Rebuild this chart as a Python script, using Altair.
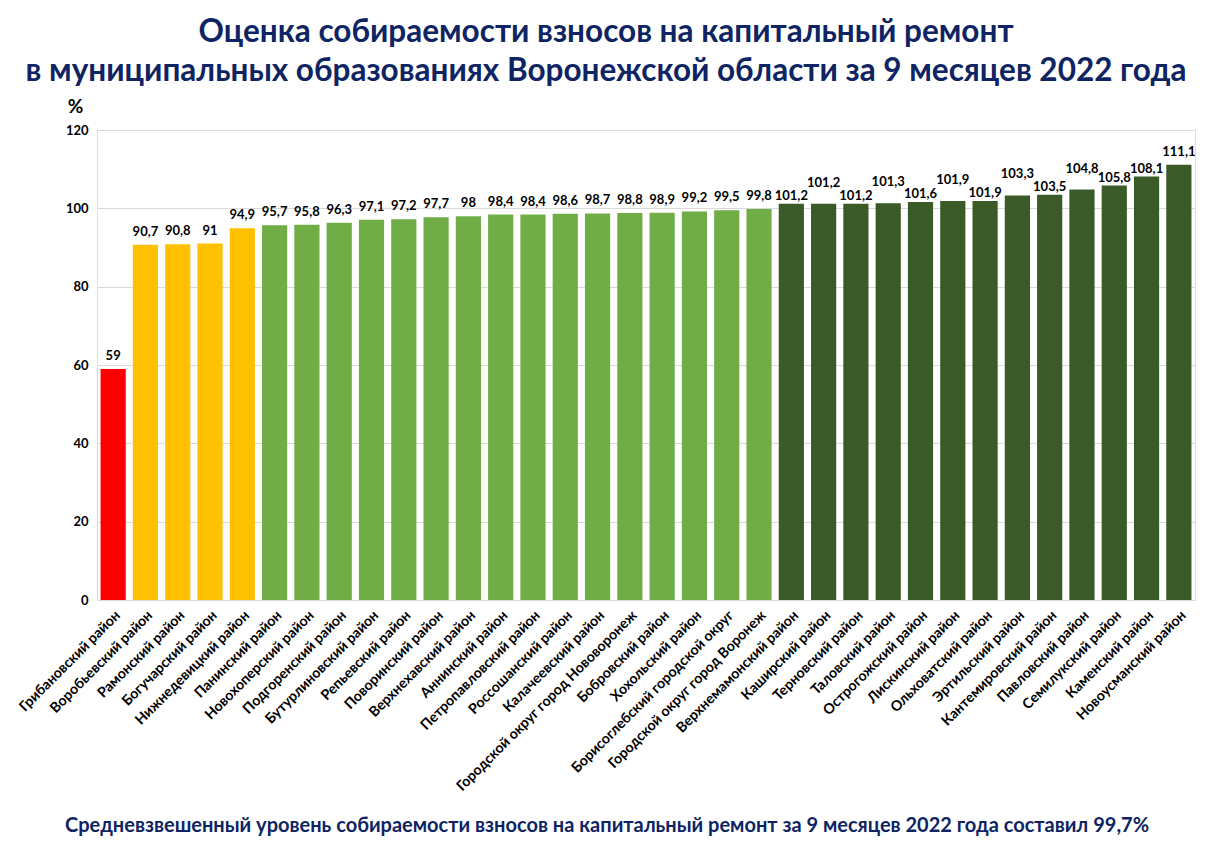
import altair as alt
import pandas as pd

districts = [
    "Грибановский район", "Воробьевский район", "Рамонский район", "Богучарский район",
    "Нижнедевицкий район", "Панинский район", "Новохоперский район", "Подгоренский район",
    "Бутурлиновский район", "Репьевский район", "Поворинский район", "Верхнехавский район",
    "Аннинский район", "Петропавловский район", "Россошанский район", "Калачеевский район",
    "Городской округ город Нововоронеж", "Бобровский район", "Хохольский район",
    "Борисоглебский городской округ", "Городской округ город Воронеж", "Верхнемамонский район",
    "Каширский район", "Терновский район", "Таловский район", "Острогожский район",
    "Лискинский район", "Ольховатский район", "Эртильский район", "Кантемировский район",
    "Павловский район", "Семилукский район", "Каменский район", "Новоусманский район",
]
values = [
    59, 90.7, 90.8, 91, 94.9, 95.7, 95.8, 96.3, 97.1, 97.2, 97.7, 98, 98.4, 98.4, 98.6,
    98.7, 98.8, 98.9, 99.2, 99.5, 99.8, 101.2, 101.2, 101.2, 101.3, 101.6, 101.9, 101.9,
    103.3, 103.5, 104.8, 105.8, 108.1, 111.1,
]
y_ticks = [0, 20, 40, 60, 80, 100, 120]
title_line1 = "Оценка собираемости взносов на капитальный ремонт"
title_line2 = "в муниципальных образованиях Воронежской области за 9 месяцев 2022 года"
footer = "Средневзвешенный уровень собираемости взносов на капитальный ремонт за 9 месяцев 2022 года составил 99,7%"

FONT = "Lato"
NAVY = "#0E2463"

df = pd.DataFrame({"district": districts, "value": values, "idx": list(range(len(values)))})

base = alt.Chart(df).transform_calculate(
    label="replace(toString(datum.value), '.', ',')",
    level="(datum.idx < 21 || datum.idx == 33) ? 0 : ((datum.idx <= 30 && datum.idx % 2 == 0) ? 2 : 1)",
)

x = alt.X(
    "district:N", sort=None, title=None,
    scale=alt.Scale(paddingInner=0.22, paddingOuter=0.11),
    axis=alt.Axis(labelAngle=-45, labelFont=FONT, labelFontSize=14.2, labelFontWeight="bold",
                  labelColor="#000000", ticks=False, domain=False, labelPadding=8,
                  labelLimit=400),
)
y = alt.Y(
    "value:Q",
    scale=alt.Scale(domain=[0, 120], nice=False),
    axis=alt.Axis(values=y_ticks, title="%", titleAngle=0, titleX=-22, titleY=-24,
                  titleAlign="center", titleBaseline="middle", titleFont=FONT,
                  titleFontSize=19, titleFontWeight="bold", titleColor="#000000",
                  labelFont=FONT, labelFontSize=13, labelFontWeight="bold",
                  labelColor="#000000", ticks=False, domain=False, labelPadding=9,
                  gridColor="#D9D9D9", gridWidth=1.2),
)

bars = base.mark_bar().encode(
    x=x, y=y,
    color=alt.Color("value:Q", legend=None,
                    scale=alt.Scale(type="threshold", domain=[90, 95, 100],
                                    range=["#FF0000", "#FFC000", "#70AD47", "#3A5A27"])),
)

def labels(level, dy):
    return base.transform_filter(f"datum.level == {level}").mark_text(
        font=FONT, fontSize=13, fontWeight="bold", color="#000000",
        baseline="bottom", dy=dy,
    ).encode(x=alt.X("district:N", sort=None), y="value:Q", text="label:N")

def free_text(s, px, py, size):
    return alt.Chart(pd.DataFrame({"t": [s]})).mark_text(
        font=FONT, fontSize=size, fontWeight="bold", color=NAVY, align="center",
        baseline="middle",
    ).encode(text="t:N", x=alt.value(px), y=alt.value(py))

chart = alt.layer(
    bars, labels(0, -6), labels(1, -1), labels(2, -14),
    free_text(title_line1, 509, -97, 31.5),
    free_text(title_line2, 509, -58, 31.5),
    free_text(footer, 510, 696, 20),
).properties(
    width=1098, height=470,
    autosize=alt.AutoSizeParams(type="none"),
    padding={"left": 89, "top": 122, "right": 8, "bottom": 240},
).configure_view(stroke=None).configure(background="#FFFFFF")

chart.save("out.html", embed_options={"renderer": "svg", "actions": False})
